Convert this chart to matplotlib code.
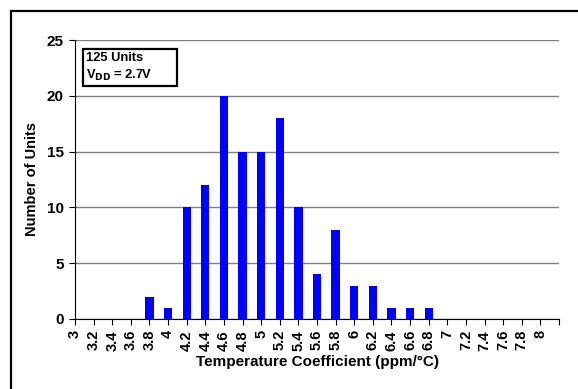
import matplotlib
matplotlib.use("Agg")
import matplotlib.pyplot as plt
from matplotlib.patches import Rectangle

plt.rcParams['font.family'] = ['Liberation Sans', 'DejaVu Sans']
plt.rcParams['font.weight'] = 'bold'

# Histogram bins (ppm/°C) and unit counts
categories = ["3", "3.2", "3.4", "3.6", "3.8", "4", "4.2", "4.4", "4.6", "4.8",
              "5", "5.2", "5.4", "5.6", "5.8", "6", "6.2", "6.4", "6.6", "6.8",
              "7", "7.2", "7.4", "7.6", "7.8", "8"]
counts = [0, 0, 0, 0, 2, 1, 10, 12, 20, 15,
          15, 18, 10, 4, 8, 3, 3, 1, 1, 1,
          0, 0, 0, 0, 0, 0]
y_ticks = [0, 5, 10, 15, 20, 25]

W, H = 578, 389
fig = plt.figure(figsize=(W / 100, H / 100), dpi=100)
ax = fig.add_axes([75/W, 1-319/H, (559-75)/W, (319-40)/H])

pos = list(range(len(categories)))
ax.bar(pos, counts, width=0.45, color='#0000FF', zorder=3)

ax.set_xlim(0, len(categories))
ax.set_ylim(0, 25)
ax.set_yticks(y_ticks)
ax.set_yticklabels([str(v) for v in y_ticks], fontsize=11, fontweight='bold')
ax.set_xticks(list(range(len(categories) + 1)))
ax.set_xticklabels(categories + [""], rotation=90, fontsize=10.5,
                   fontweight='bold', va='top', ha='center')

ax.yaxis.grid(True, color='#808080', linewidth=1.0, zorder=0)
ax.set_axisbelow(True)
for s in ['top', 'right']:
    ax.spines[s].set_visible(False)
ax.spines['left'].set_color('black')
ax.spines['bottom'].set_color('black')
ax.tick_params(axis='both', direction='out', length=4, width=0.8, colors='black')
ax.tick_params(axis='x', pad=4)
ax.tick_params(axis='y', pad=4)

ax.set_xlabel("Temperature Coefficient (ppm/°C)", fontsize=11, fontweight='bold', labelpad=3)
ax.set_ylabel("Number of Units", fontsize=10.5, fontweight='bold', labelpad=6)

# Annotation box in the upper-left corner
fig.patches.append(Rectangle((83/W, 1-86/H), (177-83)/W, (86-49)/H,
                             transform=fig.transFigure, facecolor='white',
                             edgecolor='black', linewidth=1.6, zorder=5))
fig.text(86/W, 1-52/H, "125 Units\nV$_{\\mathbf{DD}}$ = 2.7V",
         fontsize=9.3, fontweight='bold', va='top', ha='left', linespacing=1.35,
         zorder=6)

# Outer frame around the chart area
fig.patches.append(Rectangle((11/W, -0.2), 1.2, 1.2 - 11/H,
                             transform=fig.transFigure, fill=False,
                             edgecolor='black', linewidth=1.6))

fig.savefig("out.png", dpi=100)
